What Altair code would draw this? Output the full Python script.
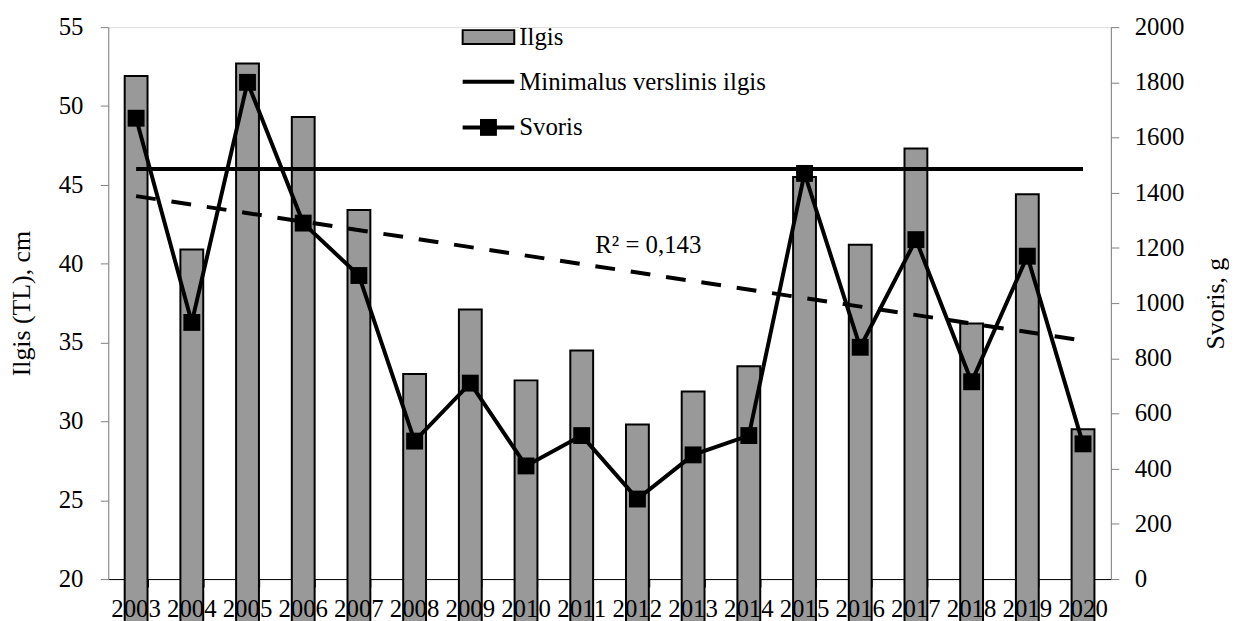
import altair as alt
import pandas as pd

# ---- data ----
years = list(range(2003, 2021))
ilgis = [51.9, 40.9, 52.7, 49.3, 43.4, 33.0, 37.1, 32.6, 34.5, 29.8,
         31.9, 33.5, 45.5, 41.2, 47.3, 36.2, 44.4, 29.5]
svoris = [1670, 930, 1800, 1290, 1100, 500, 710, 410, 520, 290,
          450, 520, 1470, 840, 1230, 715, 1170, 490]
min_ilgis = 46
left_ticks = [20, 25, 30, 35, 40, 45, 50, 55]
right_ticks = list(range(0, 2001, 200))
legend_labels = ["Ilgis", "Minimalus verslinis ilgis", "Svoris"]
r2_label = "R² = 0,143"
r2_year = "2012"
r2_y = 41.2

FONT = "Liberation Serif"
FS = 25
TITLE_FS = 26
PLOT_W = 1010
PLOT_H = 556

df = pd.DataFrame({"year": years, "yr": [str(y) for y in years],
                   "Ilgis": ilgis, "Svoris": svoris,
                   "Min": [min_ilgis] * len(years)})
left_df = pd.DataFrame({"tick": left_ticks,
                        "lab": [str(v) for v in left_ticks]})
right_df = pd.DataFrame({"tick": right_ticks,
                         "lab": [str(v) for v in right_ticks]})

x_enc = alt.X(
    "yr:O",
    scale=alt.Scale(paddingInner=0.59, paddingOuter=0.295),
    axis=alt.Axis(title=None, labels=False, tickBand="extent", tickSize=8,
                  tickColor="black", domainColor="black"),
)


def left_y(field):
    return alt.Y(
        f"{field}:Q",
        scale=alt.Scale(domain=[20, 55], nice=False, zero=False),
        axis=alt.Axis(values=left_ticks, title="Ilgis (TL), cm", orient="left",
                      grid=False, labels=False, tickSize=8,
                      tickColor="#808080", domainColor="#808080",
                      titlePadding=66),
    )


def right_y(field):
    return alt.Y(
        f"{field}:Q",
        scale=alt.Scale(domain=[0, 2000], nice=False),
        axis=alt.Axis(values=right_ticks, title="Svoris, g", orient="right",
                      grid=False, labels=False, titleAngle=270, tickSize=8,
                      tickColor="#808080", domainColor="#808080",
                      titlePadding=110),
    )


base = alt.Chart(df)

bars = base.mark_bar(color="#999999", stroke="black", strokeWidth=2).encode(
    x=x_enc, y=left_y("Ilgis"))

min_line = base.mark_line(color="black", strokeWidth=4).encode(
    x=x_enc, y=left_y("Min"))

trend = base.transform_regression("year", "Ilgis").transform_calculate(
    yr="toString(datum.year)").mark_line(
    color="black", strokeWidth=4, strokeDash=[20, 16]).encode(
    x=x_enc, y=left_y("Ilgis"))

r2_text = alt.Chart(pd.DataFrame({"yr": [r2_year], "ty": [r2_y],
                                  "label": [r2_label]})).mark_text(
    font=FONT, fontSize=FS, color="black", dx=11).encode(
    x=x_enc, y=left_y("ty"), text="label:N")

x_labels = base.mark_text(font=FONT, fontSize=FS, color="black",
                          baseline="top", align="center").encode(
    x=x_enc, y=alt.value(PLOT_H + 18), text="yr:N")

left_labels = alt.Chart(left_df).mark_text(
    font=FONT, fontSize=FS, color="black", align="right",
    baseline="middle").encode(
    x=alt.value(-25), y=left_y("tick"), text="lab:N")

one = pd.DataFrame({"k": [0]})
leg_rect = alt.Chart(one).mark_rect(fill="#999999", stroke="black", strokeWidth=2).encode(
    x=alt.value(357), x2=alt.value(409), y=alt.value(3), y2=alt.value(17))
leg_rule1 = alt.Chart(one).mark_rule(color="black", strokeWidth=4).encode(
    x=alt.value(357), x2=alt.value(409), y=alt.value(55))
leg_rule2 = alt.Chart(one).mark_rule(color="black", strokeWidth=4).encode(
    x=alt.value(357), x2=alt.value(409), y=alt.value(101))
leg_pt = alt.Chart(one).mark_point(shape="square", filled=True, size=289,
                                   color="black", opacity=1).encode(
    x=alt.value(383), y=alt.value(101))


def leg_text(label, ypix):
    return alt.Chart(one).mark_text(font=FONT, fontSize=FS, color="black",
                                    align="left", baseline="middle").encode(
        x=alt.value(414), y=alt.value(ypix), text=alt.value(label))


left = alt.layer(bars, min_line, trend, r2_text, x_labels, left_labels,
                 leg_rect, leg_rule1, leg_rule2, leg_pt,
                 leg_text(legend_labels[0], 10),
                 leg_text(legend_labels[1], 55),
                 leg_text(legend_labels[2], 101))

svoris_line = base.mark_line(
    color="black", strokeWidth=4,
    point=alt.OverlayMarkDef(shape="square", size=289, filled=True,
                             color="black", opacity=1)).encode(
    x=x_enc, y=right_y("Svoris"))

right_labels = alt.Chart(right_df).mark_text(
    font=FONT, fontSize=FS, color="black", align="left",
    baseline="middle").encode(
    x=alt.value(PLOT_W + 24), y=right_y("tick"), text="lab:N")

right = alt.layer(svoris_line, right_labels)

chart = alt.layer(left, right).resolve_scale(y="independent").properties(
    width=PLOT_W, height=PLOT_H,
    padding={"left": 0, "top": 4, "right": 0, "bottom": 0},
).configure_view(stroke=None).configure(
    background="white"
).configure_axis(
    titleFont=FONT, titleFontSize=TITLE_FS, titleFontWeight="normal",
    titleColor="black"
)

chart.save("out.html", embed_options={"renderer": "svg", "actions": False})
